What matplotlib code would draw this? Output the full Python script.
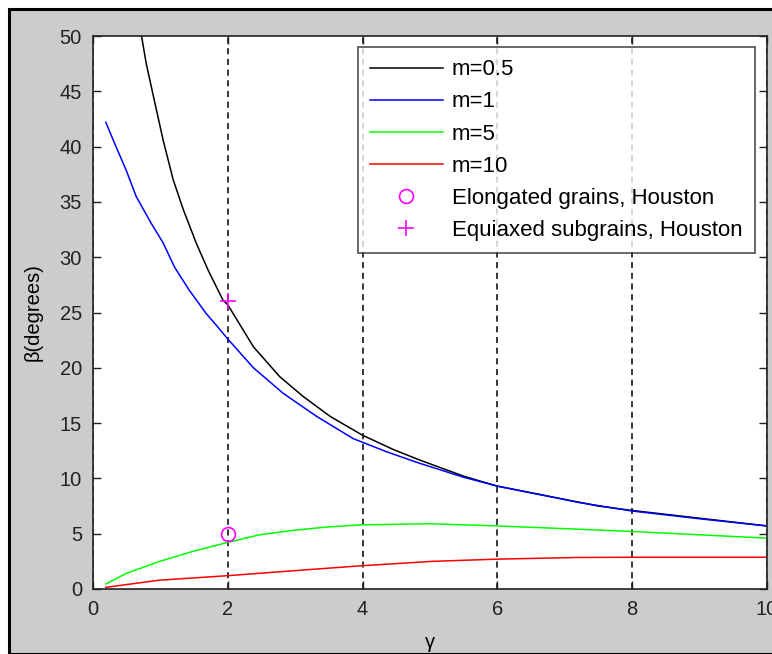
import matplotlib
matplotlib.use("Agg")
import matplotlib.pyplot as plt
from matplotlib.patches import Rectangle

plt.rcParams['font.family'] = ['Liberation Sans', 'DejaVu Sans']

# curves (gamma, beta in degrees)
gamma_m05 = [0.66, 0.72, 0.79, 0.92, 1.04, 1.19, 1.34, 1.53, 1.71, 1.93, 2.0, 2.38, 2.77, 3.12, 3.52, 4.0, 4.46, 4.83, 5.5, 6.0, 7.5, 8.0, 9.0, 10.0]
beta_m05 = [51.6, 50.0, 47.5, 43.9, 40.6, 37.0, 34.3, 31.3, 28.8, 26.1, 25.7, 21.9, 19.2, 17.4, 15.6, 13.9, 12.6, 11.7, 10.2, 9.3, 7.5, 7.1, 6.4, 5.7]

gamma_m1 = [0.19, 0.32, 0.49, 0.64, 0.86, 1.04, 1.21, 1.43, 1.68, 1.85, 2.0, 2.38, 2.82, 3.32, 3.86, 4.36, 4.83, 5.5, 6.0, 7.23, 8.0, 9.0, 10.0]
beta_m1 = [42.2, 40.3, 37.9, 35.5, 33.1, 31.3, 29.1, 27.0, 24.9, 23.7, 22.6, 20.0, 17.7, 15.6, 13.6, 12.4, 11.4, 10.1, 9.3, 7.8, 7.05, 6.35, 5.7]

gamma_m5 = [0.19, 0.49, 0.99, 1.48, 1.99, 2.47, 2.97, 3.46, 3.98, 5.0, 6.0, 7.23, 8.0, 9.0, 10.0]
beta_m5 = [0.45, 1.4, 2.5, 3.4, 4.2, 4.9, 5.3, 5.6, 5.8, 5.9, 5.7, 5.4, 5.2, 4.9, 4.6]

gamma_m10 = [0.19, 0.99, 1.99, 2.97, 3.98, 5.04, 6.0, 7.18, 8.0, 9.0, 10.0]
beta_m10 = [0.15, 0.8, 1.2, 1.65, 2.1, 2.5, 2.7, 2.85, 2.87, 2.87, 2.87]

# Houston observations
elong_gamma, elong_beta = [2.0], [5.0]
equi_gamma, equi_beta = [2.0], [26.0]

fig = plt.figure(figsize=(7.72, 6.54), dpi=100, facecolor='white')

# grey MATLAB figure area with black frame
fig.patches.append(Rectangle((9 / 772, 0), 1, 1 - 9 / 654, transform=fig.transFigure,
                             facecolor='#cccccc', edgecolor='black', linewidth=2.2, zorder=-10))

ax = fig.add_axes([93 / 772, 1 - 589 / 654, (767 - 93) / 772, (589 - 36) / 654])
ax.set_facecolor('white')

ax.plot(gamma_m05, beta_m05, color='black', lw=1.1, label='m=0.5')
ax.plot(gamma_m1, beta_m1, color='#0000ff', lw=1.1, label='m=1')
ax.plot(gamma_m5, beta_m5, color='#00ff00', lw=1.1, label='m=5')
ax.plot(gamma_m10, beta_m10, color='#ff0000', lw=1.1, label='m=10')
ax.plot(elong_gamma, elong_beta, 'o', color='#ff00ff', mfc='none', ms=10, mew=1.2,
        label='Elongated grains, Houston', linestyle='none')
ax.plot(equi_gamma, equi_beta, '+', color='#ff00ff', ms=12, mew=1.2,
        label='Equiaxed subgrains, Houston', linestyle='none')

ax.set_xlim(0, 10)
ax.set_ylim(0, 50)
ax.set_xticks([0, 2, 4, 6, 8, 10])
ax.set_yticks(range(0, 51, 5))
ax.grid(axis='x', color='black', linestyle=(0, (4, 3)), linewidth=1.1)
ax.tick_params(direction='in', top=True, right=True, length=6, width=1,
               labelsize=14.5, colors='#222222', pad=8)
for s in ax.spines.values():
    s.set_linewidth(1.2)
    s.set_color('#222222')

ax.set_xlabel('γ', fontsize=14.5, labelpad=10)
ax.set_ylabel('β(degrees)', fontsize=14.5, labelpad=12)

leg = ax.legend(loc='upper right', fontsize=16, frameon=True, fancybox=False,
                edgecolor='#222222', handlelength=3.3, labelspacing=0.5,
                borderpad=0.55, borderaxespad=0, handletextpad=0.4,
                bbox_to_anchor=(0.982, 0.980))
leg.get_frame().set_linewidth(1.2)

fig.savefig('out.png', dpi=100, facecolor=fig.get_facecolor())
